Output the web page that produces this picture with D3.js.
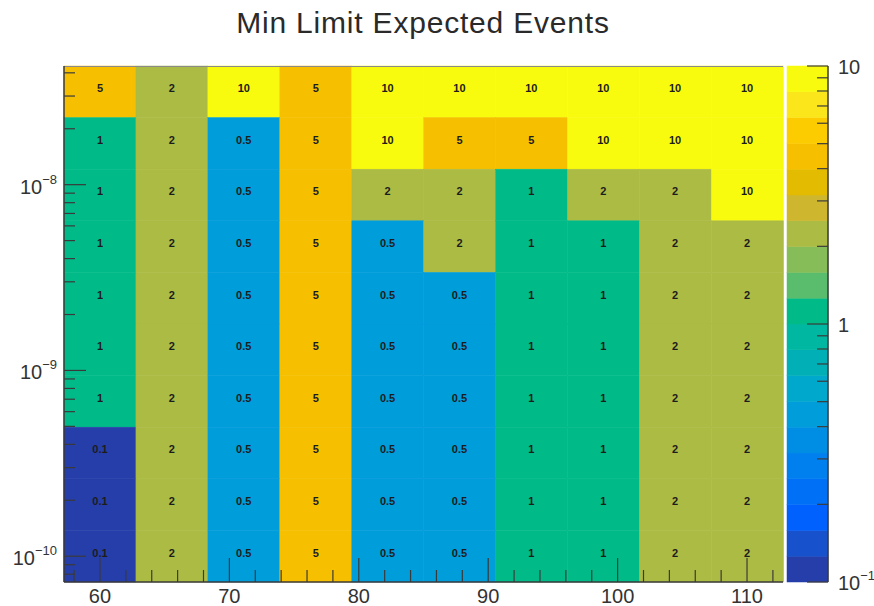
<!DOCTYPE html>
<html>
<head>
<meta charset="utf-8">
<script src="https://cdn.jsdelivr.net/npm/d3@7"></script>
<style>
  body { margin: 0; background: #fff; }
  svg { display: block; font-family: "Liberation Sans", Arial, sans-serif; }
</style>
</head>
<body>
<svg id="chart" width="874" height="606"></svg>
<script>
"use strict";

// bin centres (mass on x, coupling on y, log)
var massCenters = [60, 65.56, 71.11, 76.67, 82.22, 87.78, 93.33, 98.89, 104.44, 110];
var couplingCenters = [3.162e-8, 1.668e-8, 8.799e-9, 4.642e-9, 2.448e-9, 1.292e-9, 6.813e-10, 3.594e-10, 1.896e-10, 1.0e-10];

// expected events, one row per coupling bin, top row first
var row1  = [5,   2, 10,  5, 10,  10,  10, 10, 10, 10];
var row2  = [1,   2, 0.5, 5, 10,  5,   5,  10, 10, 10];
var row3  = [1,   2, 0.5, 5, 2,   2,   1,  2,  2,  10];
var row4  = [1,   2, 0.5, 5, 0.5, 2,   1,  1,  2,  2];
var row5  = [1,   2, 0.5, 5, 0.5, 0.5, 1,  1,  2,  2];
var row6  = [1,   2, 0.5, 5, 0.5, 0.5, 1,  1,  2,  2];
var row7  = [1,   2, 0.5, 5, 0.5, 0.5, 1,  1,  2,  2];
var row8  = [0.1, 2, 0.5, 5, 0.5, 0.5, 1,  1,  2,  2];
var row9  = [0.1, 2, 0.5, 5, 0.5, 0.5, 1,  1,  2,  2];
var row10 = [0.1, 2, 0.5, 5, 0.5, 0.5, 1,  1,  2,  2];
var rows = [row1, row2, row3, row4, row5, row6, row7, row8, row9, row10];

var xTickLabels = [60, 70, 80, 90, 100, 110];
var yDecades = [-10, -9, -8];
var zDecades = [-1, 0, 1];

var title = "Min Limit Expected Events";

// ---- layout
var plot = { left: 64, right: 783, top: 66, bottom: 582 };
var pal = { left: 787, right: 828 };

var svg = d3.select("#chart");

// bin edges from the centres
var dx = massCenters[1] - massCenters[0];
var xMin = massCenters[0] - dx / 2, xMax = massCenters[massCenters.length - 1] + dx / 2;
var dly = Math.log10(couplingCenters[0]) - Math.log10(couplingCenters[1]);
var yMax = Math.pow(10, Math.log10(couplingCenters[0]) + dly / 2);
var yMin = Math.pow(10, Math.log10(couplingCenters[couplingCenters.length - 1]) - dly / 2);

var x = d3.scaleLinear().domain([xMin, xMax]).range([plot.left, plot.right]);
var y = d3.scaleLog().domain([yMin, yMax]).range([plot.bottom, plot.top]);
var z = d3.scaleLog().domain([0.1, 10]).range([plot.bottom, plot.top]);

/* ROOT kBird palette, 20 contour levels on log z */
var birdStops = [0.0, 0.125, 0.25, 0.375, 0.5, 0.625, 0.75, 0.875, 1.0];
var birdRed   = [0.2082, 0.0592, 0.0780, 0.0232, 0.1802, 0.5301, 0.8186, 0.9956, 0.9764];
var birdGreen = [0.1664, 0.3599, 0.5041, 0.6419, 0.7178, 0.7492, 0.7328, 0.7862, 0.9832];
var birdBlue  = [0.5293, 0.8684, 0.8385, 0.7914, 0.6425, 0.4662, 0.3499, 0.1968, 0.0539];
var nLevels = 20;

function bird(f){
    var i = 0;
    while (i < birdStops.length - 2 && f > birdStops[i + 1]) i++;
    var t = (f - birdStops[i]) / (birdStops[i + 1] - birdStops[i]);
    var c = function(a){ return Math.round(255 * (a[i] + t * (a[i + 1] - a[i]))); };
    var col = d3.rgb(c(birdRed), c(birdGreen), c(birdBlue));
    // the screenshot shows the middle of the palette more vivid than the raw values
    if (f > 0.1 && f < 0.93){
        var h = d3.hcl(col);
        h.c *= 1.3;
        h.l *= 0.98;
        col = d3.rgb(h).clamp();
    }
    return col;
}
function levelOf(v){
    var l = Math.floor((Math.log10(v) + 1) * nLevels / 2 + 1e-9);
    return Math.max(0, Math.min(nLevels - 1, l));
}
function levelColor(l){ return bird((l + 0.99) / nLevels); }

// ---- cells
var cells = [];
rows.forEach(function(r, j){
    r.forEach(function(v, i){
        cells.push({ i: i, j: j, v: v });
    });
});

function xEdge(i){ return massCenters[0] - dx / 2 + i * dx; }
function yEdge(j){ return Math.pow(10, Math.log10(couplingCenters[0]) + dly / 2 - j * dly); }

svg.append("g").selectAll("rect")
    .data(cells).enter().append("rect")
    .attr("x", function(d){ return x(xEdge(d.i)); })
    .attr("y", function(d){ return y(yEdge(d.j)); })
    .attr("width", function(d){ return x(xEdge(d.i + 1)) - x(xEdge(d.i)); })
    .attr("height", function(d){ return y(yEdge(d.j + 1)) - y(yEdge(d.j)); })
    .attr("fill", function(d){ return levelColor(levelOf(d.v)); })
    .attr("stroke", function(d){ return levelColor(levelOf(d.v)); })
    .attr("stroke-width", 0.5);

svg.append("g").selectAll("text")
    .data(cells).enter().append("text")
    .attr("x", function(d){ return x(massCenters[d.i]); })
    .attr("y", function(d){ return y(couplingCenters[d.j]) + 0.5; })
    .attr("text-anchor", "middle")
    .attr("font-size", 11)
    .attr("font-weight", "bold")
    .attr("fill", "#1c1c1c")
    .text(function(d){ return d.v; });

// ---- axes
var axisColor = "#3a3a3a";

// frame top
svg.append("line")
    .attr("x1", plot.left).attr("x2", plot.right)
    .attr("y1", plot.top + 0.5).attr("y2", plot.top + 0.5)
    .attr("stroke", "#8a8a8a").attr("stroke-width", 1);

// x axis: major every 10, minor every 2
var xMinor = d3.range(58, xMax, 2).filter(function(v){ return v % 10 !== 0; });
var xAxis = svg.append("g");
xAxis.selectAll(".maj").data(xTickLabels).enter().append("line")
    .attr("x1", function(d){ return x(d); }).attr("x2", function(d){ return x(d); })
    .attr("y1", plot.bottom).attr("y2", plot.bottom - 24)
    .attr("stroke", axisColor).attr("stroke-width", 1.2);
xAxis.selectAll(".min").data(xMinor).enter().append("line")
    .attr("x1", function(d){ return x(d); }).attr("x2", function(d){ return x(d); })
    .attr("y1", plot.bottom).attr("y2", plot.bottom - 12)
    .attr("stroke", axisColor).attr("stroke-width", 1.2);
xAxis.selectAll("text").data(xTickLabels).enter().append("text")
    .attr("x", function(d){ return x(d); })
    .attr("y", 603)
    .attr("text-anchor", "middle")
    .attr("font-size", 20)
    .attr("fill", "#333")
    .text(function(d){ return d; });
xAxis.append("line")
    .attr("x1", plot.left).attr("x2", plot.right)
    .attr("y1", plot.bottom).attr("y2", plot.bottom)
    .attr("stroke", axisColor).attr("stroke-width", 1.5);

// y axis: log, decades major
var yMinorTicks = [];
[-11, -10, -9, -8].forEach(function(e){
    [2, 3, 4, 5, 6, 7, 8, 9].forEach(function(m){
        var v = m * Math.pow(10, e);
        if (v > yMin && v < yMax) yMinorTicks.push(v);
    });
});
var yAxis = svg.append("g");
yAxis.selectAll(".maj").data(yDecades).enter().append("line")
    .attr("x1", plot.left).attr("x2", plot.left + 22)
    .attr("y1", function(d){ return y(Math.pow(10, d)); })
    .attr("y2", function(d){ return y(Math.pow(10, d)); })
    .attr("stroke", axisColor).attr("stroke-width", 1.2);
yAxis.selectAll(".min").data(yMinorTicks).enter().append("line")
    .attr("x1", plot.left).attr("x2", plot.left + 11)
    .attr("y1", function(d){ return y(d); })
    .attr("y2", function(d){ return y(d); })
    .attr("stroke", axisColor).attr("stroke-width", 1.2);
var yLab = yAxis.selectAll("text").data(yDecades).enter().append("text")
    .attr("x", 57)
    .attr("y", function(d){ return y(Math.pow(10, d)) + 9; })
    .attr("text-anchor", "end")
    .attr("font-size", 20)
    .attr("fill", "#333");
yLab.append("tspan").text("10");
yLab.append("tspan")
    .attr("font-size", 13)
    .attr("dy", -10)
    .text(function(d){ return "\u2212" + (-d); });
yAxis.append("line")
    .attr("x1", plot.left).attr("x2", plot.left)
    .attr("y1", plot.top).attr("y2", plot.bottom)
    .attr("stroke", axisColor).attr("stroke-width", 1.5);

// ---- palette
var palette = svg.append("g");
palette.selectAll("rect").data(d3.range(nLevels)).enter().append("rect")
    .attr("x", pal.left)
    .attr("width", pal.right - pal.left)
    .attr("y", function(l){ return z(Math.pow(10, (l + 1) * 2 / nLevels - 1)); })
    .attr("height", function(l){
        return z(Math.pow(10, l * 2 / nLevels - 1)) - z(Math.pow(10, (l + 1) * 2 / nLevels - 1));
    })
    .attr("fill", function(l){ return levelColor(l); })
    .attr("stroke", function(l){ return levelColor(l); })
    .attr("stroke-width", 0.5);

var zMinor = [];
[-1, 0].forEach(function(e){
    [2, 3, 4, 5, 6, 7, 8, 9].forEach(function(m){ zMinor.push(m * Math.pow(10, e)); });
});
palette.selectAll(".maj").data(zDecades).enter().append("line")
    .attr("x1", pal.right).attr("x2", pal.right - 21)
    .attr("y1", function(d){ return z(Math.pow(10, d)); })
    .attr("y2", function(d){ return z(Math.pow(10, d)); })
    .attr("stroke", axisColor).attr("stroke-width", 1.2);
palette.selectAll(".min").data(zMinor).enter().append("line")
    .attr("x1", pal.right).attr("x2", pal.right - 11)
    .attr("y1", function(d){ return z(d); })
    .attr("y2", function(d){ return z(d); })
    .attr("stroke", axisColor).attr("stroke-width", 1.2);
palette.append("line")
    .attr("x1", pal.right).attr("x2", pal.right)
    .attr("y1", plot.top).attr("y2", plot.bottom)
    .attr("stroke", axisColor).attr("stroke-width", 1.5);

var zLab = palette.selectAll("text").data(zDecades).enter().append("text")
    .attr("x", 838)
    .attr("y", function(d){ return z(Math.pow(10, d)) + 8; })
    .attr("font-size", 20)
    .attr("fill", "#333");
zLab.append("tspan").text(function(d){ return d === 0 ? "1" : "10"; });
zLab.filter(function(d){ return d < 0; }).append("tspan")
    .attr("font-size", 13)
    .attr("dy", -10)
    .text(function(d){ return "\u2212" + (-d); });

// ---- title
svg.append("text")
    .attr("x", 423)
    .attr("y", 33)
    .attr("text-anchor", "middle")
    .attr("font-size", 30)
    .attr("letter-spacing", 0.8)
    .attr("fill", "#2a2a2a")
    .text(title);
</script>
</body>
</html>
